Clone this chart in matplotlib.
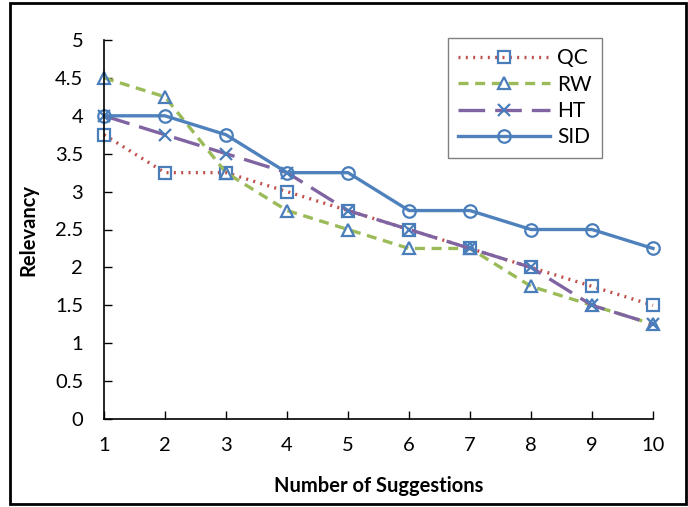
import matplotlib

matplotlib.use("Agg")
import matplotlib.pyplot as plt
from matplotlib.patches import Rectangle

plt.rcParams["font.family"] = ["Lato", "DejaVu Sans"]

suggestions = [1, 2, 3, 4, 5, 6, 7, 8, 9, 10]
qc = [3.75, 3.25, 3.25, 3.0, 2.75, 2.5, 2.25, 2.0, 1.75, 1.5]
rw = [4.5, 4.25, 3.25, 2.75, 2.5, 2.25, 2.25, 1.75, 1.5, 1.25]
ht = [4.0, 3.75, 3.5, 3.25, 2.75, 2.5, 2.25, 2.0, 1.5, 1.25]
sid = [4.0, 4.0, 3.75, 3.25, 3.25, 2.75, 2.75, 2.5, 2.5, 2.25]
y_ticks = [0, 0.5, 1, 1.5, 2, 2.5, 3, 3.5, 4, 4.5, 5]

MARKER_BLUE = "#4A7EBB"

fig = plt.figure(figsize=(6.88, 5.07), dpi=100)
ax = fig.add_axes([104 / 688, 1 - 419 / 507, 549 / 688, 379 / 507])

# every series shares the hollow blue markers
common = dict(lw=2.4, ms=9, mfc="none", mec=MARKER_BLUE, mew=1.6, clip_on=False)
ax.plot(suggestions, qc, color="#C0504D", ls=(0, (0.6, 1.6)), marker="s", label="QC", **common)
ax.plot(suggestions, rw, color="#9BBB59", ls=(0, (3, 2)), marker="^", label="RW", **common)
ax.plot(suggestions, ht, color="#8064A2", ls=(0, (8, 3)), marker="x", label="HT", **common)
ax.plot(suggestions, sid, color="#4F81BD", ls="-", marker="o", label="SID", **common)

ax.set_xlim(1, 10)
ax.set_ylim(0, 5)
ax.set_xticks(suggestions)
ax.set_yticks(y_ticks)
ax.set_yticklabels([f"{t:g}" for t in y_ticks])
ax.spines["top"].set_visible(False)
ax.spines["right"].set_visible(False)
for side in ("left", "bottom"):
    ax.spines[side].set_linewidth(1.2)
ax.tick_params(direction="in", length=6, width=1, labelsize=14.5)
ax.tick_params(axis="x", pad=13)
ax.tick_params(axis="y", pad=15)

ax.set_xlabel("Number of Suggestions", fontsize=14.5, fontweight="bold", labelpad=16)
ax.set_ylabel("Relevancy", fontsize=14.5, fontweight="bold", labelpad=12)

leg = ax.legend(
    loc="upper left",
    bbox_to_anchor=(448 / 688, 1 - 38 / 507),
    bbox_transform=fig.transFigure,
    borderaxespad=0,
    fontsize=15,
    handlelength=4.4,
    handletextpad=0.35,
    labelspacing=0.3,
    borderpad=0.5,
    fancybox=False,
    framealpha=1,
    edgecolor="#808080",
)
leg.get_frame().set_linewidth(1.0)

# black frame round the whole chart
fig.patches.append(
    Rectangle((10 / 688, 3 / 507), 676 / 688, 501 / 507, transform=fig.transFigure,
              fill=False, edgecolor="black", linewidth=2)
)

fig.savefig("out.png", dpi=100)
